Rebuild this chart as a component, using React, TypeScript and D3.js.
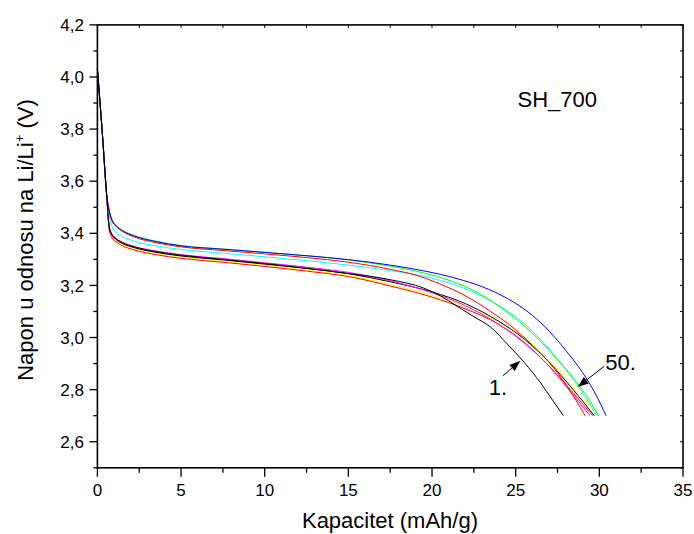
import React from "react";
import * as d3 from "d3";

type Pt = [number, number];

const xTicks = [0, 5, 10, 15, 20, 25, 30, 35];
const yTicks = [2.6, 2.8, 3.0, 3.2, 3.4, 3.6, 3.8, 4.0, 4.2];

const startPts: Pt[] = [[0, 4.03], [0.3, 3.78], [0.55, 3.55]];

const blue: Pt[] = [[0.7, 3.49], [0.85, 3.455], [1.1, 3.43], [1.5, 3.41], [2.2, 3.39], [3.5, 3.368], [5, 3.352], [7.5, 3.339], [10, 3.327], [12.5, 3.314], [15, 3.299], [17.5, 3.278], [19.5, 3.256], [21.5, 3.226], [23, 3.195], [24.5, 3.15], [26, 3.085], [27, 3.025], [28, 2.95], [29, 2.865], [29.8, 2.78], [30.4, 2.7]];
const green: Pt[] = [[0.7, 3.49], [0.85, 3.455], [1.1, 3.432], [1.5, 3.412], [2.2, 3.392], [3.5, 3.37], [5, 3.353], [7.5, 3.34], [10, 3.327], [12.5, 3.314], [15, 3.298], [17.5, 3.274], [19.5, 3.248], [21, 3.22], [22.5, 3.18], [24, 3.12], [25.5, 3.045], [26.5, 2.985], [27.5, 2.915], [28.5, 2.84], [29.3, 2.77], [29.95, 2.7]];
const redUpper: Pt[] = [[0.7, 3.485], [0.85, 3.45], [1.1, 3.428], [1.5, 3.407], [2.2, 3.386], [3.5, 3.364], [5, 3.348], [7.5, 3.334], [10, 3.321], [12.5, 3.307], [15, 3.289], [17.5, 3.262], [19, 3.24], [20.5, 3.205], [22, 3.16], [23.5, 3.1], [25, 3.03], [26, 2.97], [27, 2.905], [28, 2.82], [28.6, 2.76], [29.15, 2.7]];
const cyan: Pt[] = [[0.7, 3.47], [0.85, 3.43], [1.1, 3.405], [1.5, 3.388], [2.2, 3.37], [3.5, 3.352], [5, 3.338], [7.5, 3.324], [10, 3.31], [12.5, 3.295], [15, 3.278], [17.5, 3.257], [20, 3.228], [22, 3.187], [24, 3.122], [25.5, 3.055], [27, 2.955], [28.5, 2.835], [29.85, 2.7]];
const magenta: Pt[] = [[0.7, 3.43], [0.85, 3.4], [1.1, 3.382], [1.5, 3.366], [2.2, 3.35], [3.5, 3.332], [5, 3.318], [7.5, 3.303], [10, 3.287], [12.5, 3.27], [15, 3.25], [17.5, 3.218], [20, 3.172], [22, 3.122], [24, 3.05], [25.5, 2.98], [27, 2.89], [28.3, 2.79], [29.44, 2.7]];
const black50: Pt[] = [[0.7, 3.425], [0.85, 3.395], [1.1, 3.377], [1.5, 3.361], [2.2, 3.345], [3.5, 3.327], [5, 3.313], [7.5, 3.298], [10, 3.282], [12.5, 3.265], [15, 3.245], [17.5, 3.214], [20, 3.175], [22, 3.13], [24, 3.062], [25.5, 2.995], [27, 2.905], [28.5, 2.795], [29.7, 2.7]];
const yellow: Pt[] = [[0.7, 3.42], [0.85, 3.39], [1.1, 3.372], [1.5, 3.356], [2.2, 3.34], [3.5, 3.322], [5, 3.308], [7.5, 3.293], [10, 3.277], [12.5, 3.259], [15, 3.238], [17.5, 3.204], [20, 3.162], [22, 3.12], [24, 3.06], [25.5, 3.0], [27, 2.912], [28.5, 2.805], [29.9, 2.7]];
const redLower: Pt[] = [[0.7, 3.415], [0.85, 3.385], [1.1, 3.368], [1.5, 3.352], [2.2, 3.336], [3.5, 3.318], [5, 3.304], [7.5, 3.289], [10, 3.273], [12.5, 3.255], [15, 3.234], [17.5, 3.198], [20, 3.155], [22, 3.11], [24, 3.05], [25.5, 2.982], [27, 2.89], [28.4, 2.79], [29.6, 2.7]];
const black1: Pt[] = [[0.7, 3.43], [0.85, 3.398], [1.1, 3.38], [1.5, 3.364], [2.2, 3.348], [3.5, 3.33], [5, 3.316], [7.5, 3.3], [10, 3.284], [12.5, 3.266], [15, 3.246], [17.5, 3.222], [19.5, 3.19], [20.5, 3.16], [21.5, 3.12], [22.5, 3.08], [23.5, 3.04], [24.5, 2.975], [25.5, 2.905], [26.5, 2.825], [27.2, 2.76], [27.85, 2.7]];

const seriesList: { name: string; color: string; pts: Pt[] }[] = [
  { name: "yellow", color: "#ffff00", pts: yellow },
  { name: "redLower", color: "#ff0000", pts: redLower },
  { name: "black50", color: "#000000", pts: black50 },
  { name: "magenta", color: "#ff00ff", pts: magenta },
  { name: "cyan", color: "#00ffff", pts: cyan },
  { name: "green", color: "#00ff00", pts: green },
  { name: "redUpper", color: "#ff0000", pts: redUpper },
  { name: "blue", color: "#0000ff", pts: blue },
  { name: "black1", color: "#000000", pts: black1 },
];

const annot1: { label: string; tail: Pt; tip: Pt } = { label: "1.", tail: [24.24, 2.853], tip: [25.28, 2.911] };
const annot50: { label: string; tail: Pt; tip: Pt } = { label: "50.", tail: [30.3, 2.89], tip: [28.7, 2.81] };

const W = 694, H = 534;
const L = 97.4, R = 683, T = 24.9, B = 467.8;

export default function App() {
  const x = d3.scaleLinear().domain([0, 35]).range([L, R]);
  const y = d3.scaleLinear().domain([2.5, 4.2]).range([B, T]);
  const line = d3.line<Pt>().x(d => x(d[0])).y(d => y(d[1])).curve(d3.curveMonotoneX);
  const font = "Arial, 'Liberation Sans', sans-serif";
  const xMinor = d3.range(0, 35.01, 2.5);
  const yMinor = d3.range(2.5, 4.201, 0.1);

  const arrow = (a: { label: string; tail: Pt; tip: Pt }, key: string) => {
    const x1 = x(a.tail[0]), y1 = y(a.tail[1]), x2 = x(a.tip[0]), y2 = y(a.tip[1]);
    const ang = Math.atan2(y2 - y1, x2 - x1);
    const len = 11, wid = 4;
    const bx = x2 - len * Math.cos(ang), by = y2 - len * Math.sin(ang);
    const px = -Math.sin(ang) * wid, py = Math.cos(ang) * wid;
    return (
      <g key={key}>
        <line x1={x1} y1={y1} x2={bx} y2={by} stroke="#000" strokeWidth={1} />
        <path d={`M${x2},${y2}L${bx + px},${by + py}L${bx - px},${by - py}Z`} fill="#000" />
      </g>
    );
  };

  return (
    <svg width={W} height={H} style={{ position: "absolute", left: 0, top: 0, background: "#fff" }} fontFamily={font}>
      <rect x={0} y={0} width={W} height={H} fill="#fff" />
      <g>
        {seriesList.map(s => (
          <path key={s.name} d={line([...startPts, ...s.pts]) || ""} fill="none" stroke={s.color} strokeWidth={1} />
        ))}
      </g>
      <rect x={L} y={T} width={R - L} height={B - T} fill="none" stroke="#000" strokeWidth={1.6} />
      {xMinor.map((v, i) => {
        const major = Math.abs(v % 5) < 1e-6;
        return <line key={"bx" + i} x1={x(v)} x2={x(v)} y1={B} y2={B + (major ? 9 : 5)} stroke="#000" strokeWidth={1.3} />;
      })}
      {xMinor.map((v, i) => (
        <line key={"tx" + i} x1={x(v)} x2={x(v)} y1={T} y2={T + 3} stroke="#000" strokeWidth={1} />
      ))}
      {yMinor.map((v, i) => {
        const major = Math.round(v * 10) % 2 === 0;
        return <line key={"ly" + i} x1={L} x2={L - (major ? 8 : 4)} y1={y(v)} y2={y(v)} stroke="#000" strokeWidth={1.3} />;
      })}
      {yMinor.map((v, i) => (
        <line key={"ry" + i} x1={R} x2={R - 3} y1={y(v)} y2={y(v)} stroke="#000" strokeWidth={1} />
      ))}
      {xTicks.map(v => (
        <text key={"xl" + v} x={x(v)} y={496} textAnchor="middle" fontSize={17}>{v}</text>
      ))}
      {yTicks.map(v => (
        <text key={"yl" + v} x={84} y={y(v)} dy="0.36em" textAnchor="end" fontSize={17}>{v.toFixed(1).replace(".", ",")}</text>
      ))}
      <text x={390} y={528} textAnchor="middle" fontSize={22}>Kapacitet (mAh/g)</text>
      <text transform={`translate(33, 240) rotate(-90)`} textAnchor="middle" fontSize={22}>
        Napon u odnosu na Li/Li<tspan dy={-9} fontSize={13}>+</tspan><tspan dy={9}> (V)</tspan>
      </text>
      <text x={597} y={106.5} textAnchor="end" fontSize={22}>SH_700</text>
      {arrow(annot1, "a1")}
      {arrow(annot50, "a50")}
      <text x={507} y={395} textAnchor="end" fontSize={22}>{annot1.label}</text>
      <text x={x(annot50.tail[0]) + 1} y={y(annot50.tail[1]) + 4} textAnchor="start" fontSize={22}>{annot50.label}</text>
    </svg>
  );
}
